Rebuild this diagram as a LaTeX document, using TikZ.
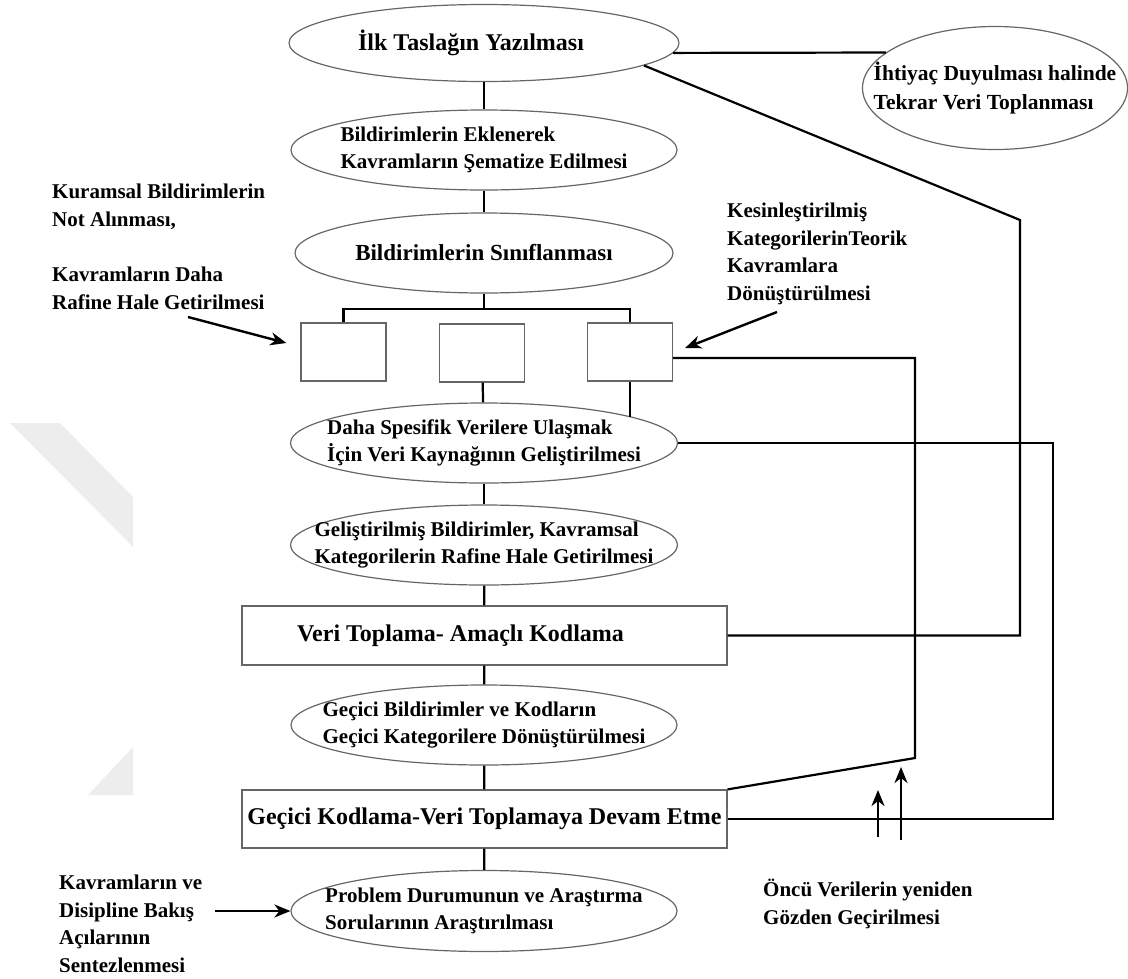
\documentclass[tikz,border=0pt]{standalone}
\usepackage{fontspec}
\setmainfont{Liberation Serif}
\usetikzlibrary{shapes.geometric,arrows.meta}

\tikzset{
  elips/.style={ellipse, draw=black!60, line width=1.2pt, inner xsep=-80pt, inner ysep=0pt, align=left,
    font=\fontsize{21}{27.5}\selectfont\bfseries},
  kutu/.style={rectangle, draw=black!60, line width=1.2pt, inner sep=0pt,
    font=\fontsize{24}{28}\selectfont\bfseries},
  bos/.style={kutu, minimum width=85pt, minimum height=58pt},
  baglanti/.style={line width=2.2pt},
  ok/.style={line width=2.4pt, -{Stealth[length=16pt,width=13pt,inset=5pt]}},
  aciklama/.style={anchor=base west, align=left, inner sep=0pt,
    font=\fontsize{21}{27.5}\selectfont\bfseries}
}

\begin{document}
\begin{tikzpicture}[x=1pt,y=-1pt] % ana akis
      \useasboundingbox (0,0) rectangle (1128,978);
      \fill[black!7] (10,423) -- (60,423) -- (133,497) -- (133,547) -- cycle;
      \fill[black!7] (133,747) -- (133,795) -- (88,795) -- cycle;

      \node[elips, minimum width=390pt, minimum height=77pt, font=\fontsize{24}{28}\selectfont\bfseries] (ilk) at (484,43) {İlk Taslağın Yazılması\hspace*{26pt}};
      \node[elips, minimum width=265pt, minimum height=123pt, font=\fontsize{21.5}{29}\selectfont\bfseries] (ihtiyac) at (995,88) {İhtiyaç Duyulması halinde\\Tekrar Veri Toplanması};
      \node[elips, minimum width=386pt, minimum height=80pt] (eklenerek) at (484,150) {Bildirimlerin Eklenerek\\Kavramların Şematize Edilmesi};
      \node[elips, minimum width=378pt, minimum height=80pt, font=\fontsize{23}{28}\selectfont\bfseries] (sinif) at (484,253) {Bildirimlerin Sınıflanması};
      \node[bos] (k1) at (343.5,352) {};
      \node[bos] (k2) at (482,353) {};
      \node[bos] (k3) at (630,352) {};
      \node[elips, minimum width=387pt, minimum height=80pt] (spesifik) at (484,443) {Daha Spesifik Verilere Ulaşmak\\İçin Veri Kaynağının Geliştirilmesi};
      \node[elips, minimum width=387pt, minimum height=80pt] (gelistirilmis) at (484,545) {Geliştirilmiş Bildirimler, Kavramsal\\Kategorilerin Rafine Hale Getirilmesi};
      \node[kutu, minimum width=485pt, minimum height=59pt] (veri) at (484.5,635.5) {Veri Toplama- Amaçlı Kodlama\hspace*{48pt}};
      \node[elips, minimum width=386pt, minimum height=80pt] (gecici) at (484,725) {Geçici Bildirimler ve Kodların\\Geçici Kategorilere Dönüştürülmesi};
      \node[kutu, minimum width=485pt, minimum height=58pt] (kodlama) at (484.5,819) {Geçici Kodlama-Veri Toplamaya Devam Etme};
      \node[elips, minimum width=386pt, minimum height=81pt] (problem) at (484,911) {Problem Durumunun ve Araştırma\\Sorularının Araştırılması};

      \node[aciklama] (kuramsal) at (52,226) {Kuramsal Bildirimlerin\\Not Alınması,};
      \node[aciklama] (rafine) at (52,309) {Kavramların Daha\\Rafine Hale Getirilmesi};
      \node[aciklama] (kesin) at (727,300) {Kesinleştirilmiş\\KategorilerinTeorik\\Kavramlara\\Dönüştürülmesi};
      \node[aciklama] (oncu) at (763,924) {Öncü Verilerin yeniden\\Gözden Geçirilmesi};
      \node[aciklama] (sentez) at (59,972) {Kavramların ve\\Disipline Bakış\\Açılarının\\Sentezlenmesi};

      \coordinate (ayrim) at (484,309);
      \coordinate (kose1) at (1020,220);
      \coordinate (kose2) at (915,758);
      \coordinate (kose3) at (1053,819);

      \draw[baglanti] (ilk) -- (eklenerek);
      \draw[baglanti] (eklenerek) -- (sinif);
      \draw[baglanti] (sinif) -- (ayrim);
      \draw[baglanti] (k1.north) -- (k1.north |- ayrim) -- (k3.north |- ayrim) -- (k3.north);
      \draw[baglanti] (k2) -- (spesifik);
      \draw[baglanti] (k3.south) -- (k3.south |- spesifik.10);
      \draw[baglanti] (spesifik) -- (gelistirilmis);
      \draw[baglanti] (gelistirilmis) -- (veri);
      \draw[baglanti] (veri) -- (gecici);
      \draw[baglanti] (gecici) -- (kodlama);
      \draw[baglanti] (kodlama) -- (problem);

      % geri donusler
      \draw[baglanti] (ilk.-3) -- (ihtiyac.162);
      \draw[baglanti] (ilk.-8) -- (kose1) |- (veri.east);
      \draw[baglanti] ([yshift=-6pt]k3.east) -| (kose2) -- (kodlama.north east);
      \draw[baglanti] (spesifik.east) -| (kose3) -- (kodlama.east);

      \coordinate (s1) at (188,317);
      \coordinate (s2) at (777,312);
      \coordinate (s3) at (215,911);
      \coordinate (o1) at (878,837);
      \coordinate (o2) at (901,840);
      \draw[ok] (s1) -- ([xshift=-14pt,yshift=9pt]k1.west);
      \draw[ok] (s2) -- ([xshift=12pt,yshift=4pt]k3.east);
      \draw[ok] (s3) -- (problem);
      \draw[ok] (o1) -- ++(0,-47);
      \draw[ok] (o2) -- ++(0,-73);
   \end{tikzpicture}
\end{document}
